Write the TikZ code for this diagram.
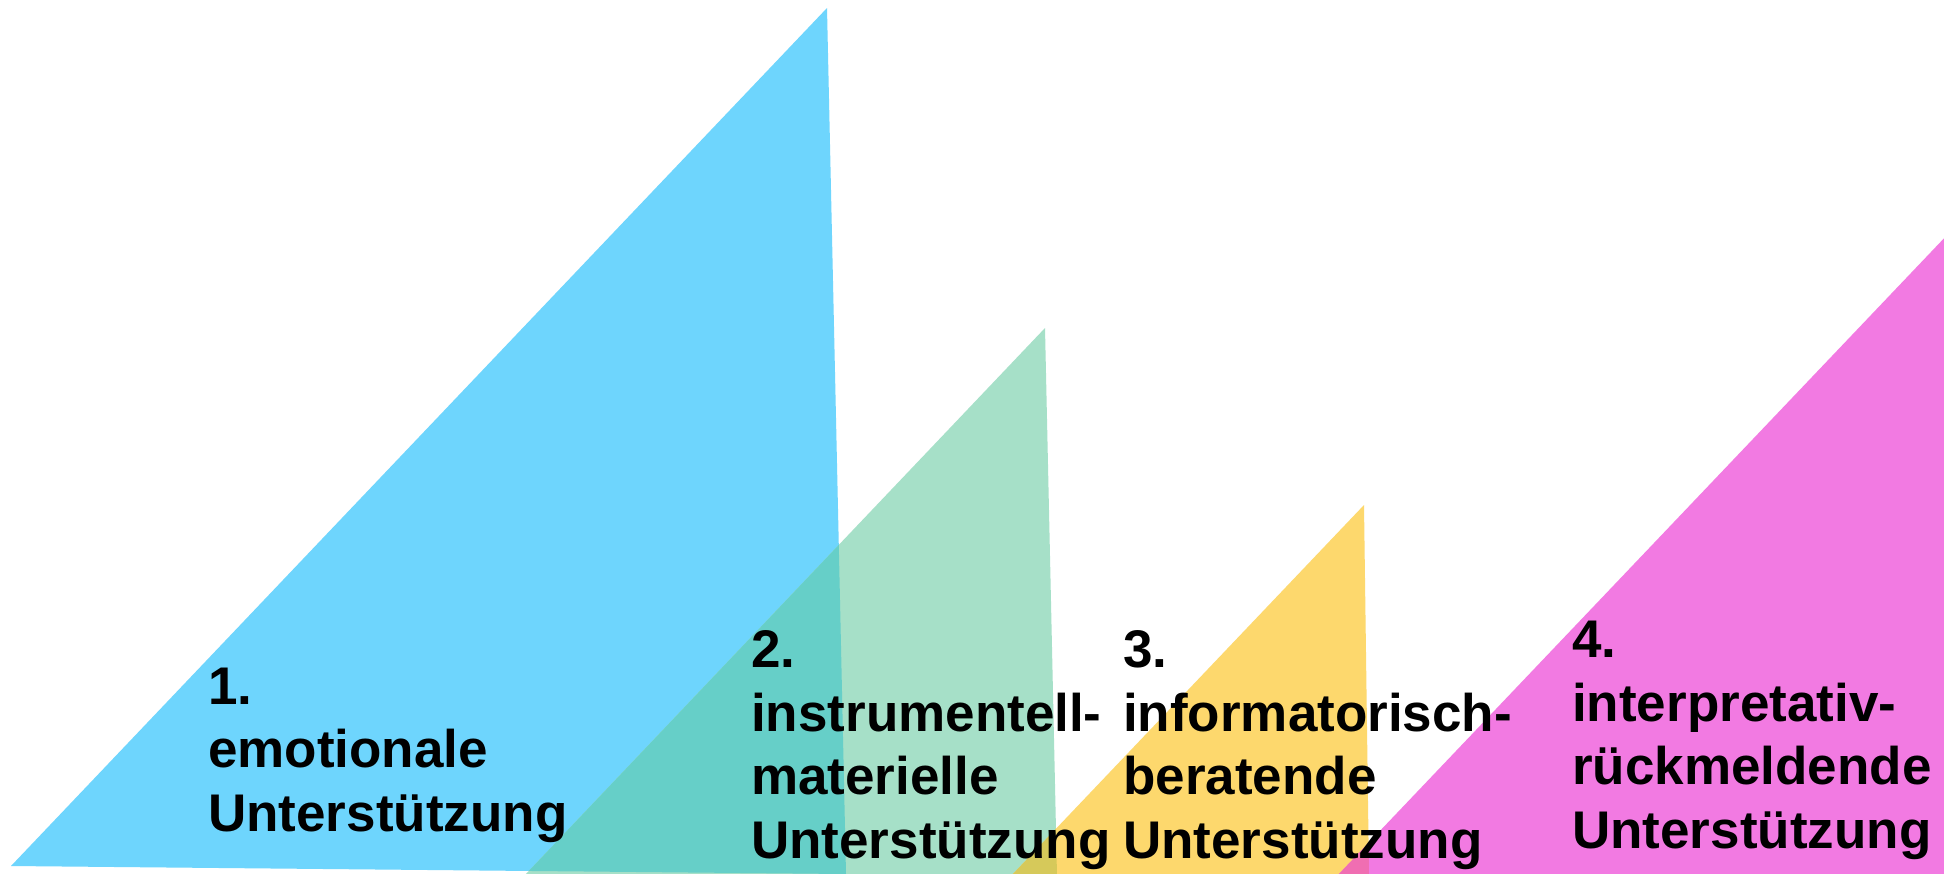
\documentclass[tikz,border=0pt]{standalone}
\usepackage{fontspec}
\setmainfont{Liberation Sans}
\definecolor{tblue}{HTML}{6ED5FD}
\definecolor{tgreen}{HTML}{A6E0C8}
\definecolor{tteal}{HTML}{66CFC8}
\definecolor{tyellow}{HTML}{FDD86D}
\definecolor{tolive}{HTML}{D6C95A}
\definecolor{tpink}{HTML}{F27AE2}
\definecolor{tpinkyel}{HTML}{F06EB2}
\begin{document}
\begin{tikzpicture}[x=1pt,y=-1pt,
  lbl/.style={anchor=base west, align=left, inner sep=0pt, text=black,
    font=\bfseries\fontsize{53}{63.5}\selectfont}]
\useasboundingbox (0,0) rectangle (1944,873);
\clip (0,0) rectangle (1944,873);
\fill[white] (0,0) rectangle (1944,873);
% vertices
\coordinate (b1) at (827,8);   \coordinate (b2) at (11,866);  \coordinate (b3) at (846,874);
\coordinate (g1) at (1045,328); \coordinate (g2) at (524,876); \coordinate (g3) at (1057,876);
\coordinate (y1) at (1364,505); \coordinate (y2) at (1011,876); \coordinate (y3) at (1369,876);
\coordinate (p1) at (1950,232); \coordinate (p2) at (1337,876); \coordinate (p3) at (1952,876);
% triangles
\fill[tblue]   (b1) -- (b2) -- (b3) -- cycle;
\fill[tgreen]  (g1) -- (g2) -- (g3) -- cycle;
\fill[tyellow] (y1) -- (y2) -- (y3) -- cycle;
\fill[tpink]   (p1) -- (p2) -- (p3) -- cycle;
% overlaps
\begin{scope}
  \clip (b1) -- (b2) -- (b3) -- cycle;
  \fill[tteal] (g1) -- (g2) -- (g3) -- cycle;
\end{scope}
\begin{scope}
  \clip (g1) -- (g2) -- (g3) -- cycle;
  \fill[tolive] (y1) -- (y2) -- (y3) -- cycle;
\end{scope}
\begin{scope}
  \clip (y1) -- (y2) -- (y3) -- cycle;
  \fill[tpinkyel] (p1) -- (p2) -- (p3) -- cycle;
\end{scope}
% labels (anchored at the baseline of the last line)
\node[lbl] (t1) at (208,831) {1.\\emotionale\\Unterstützung};
\node[lbl] (t2) at (751,858) {2.\\instrumentell-\\materielle\\Unterstützung};
\node[lbl] (t3) at (1123,858) {3.\\informatorisch-\\beratende\\Unterstützung};
\node[lbl] (t4) at (1572,848) {4.\\interpretativ-\\rückmeldende\\Unterstützung};
\end{tikzpicture}
\end{document}
